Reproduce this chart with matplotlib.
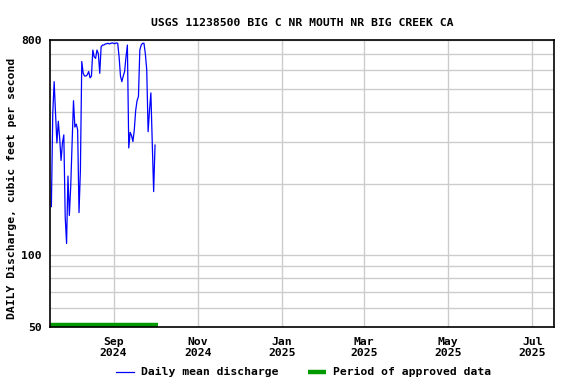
import matplotlib
matplotlib.use("Agg")
import matplotlib.pyplot as plt
import numpy as np
import pandas as pd

title = "USGS 11238500 BIG C NR MOUTH NR BIG CREEK CA"
ylabel = "DAILY Discharge, cubic feet per second"

start_date = "2024-07-18"
discharge = [160, 394, 535, 394, 296, 365, 310, 250, 296, 320,
             145, 112, 215, 147, 195, 296, 445, 345, 355, 336,
             151, 228, 650, 580, 565, 565, 572, 590, 555, 565,
             726, 680, 670, 726, 700, 580, 750, 762, 762, 770,
             772, 775, 770, 775, 778, 775, 772, 778, 775,
             680, 565, 535, 565, 590, 680, 762, 282, 328, 318,
             300, 336, 405, 445, 463, 726, 762, 775, 775, 700,
             600, 330, 405, 480, 296, 185, 290]
dates = pd.date_range(start_date, periods=len(discharge), freq="D")

approved_start = "2024-07-17"
approved_end = "2024-10-03"

xlim = ("2024-07-17", "2025-07-17")
tick_dates = ["2024-09-01", "2024-11-01", "2025-01-01", "2025-03-01", "2025-05-01", "2025-07-01"]
tick_labels = ["Sep\n2024", "Nov\n2024", "Jan\n2025", "Mar\n2025", "May\n2025", "Jul\n2025"]
y_major = [50, 100, 800]
y_minor = [60, 70, 80, 90, 200, 300, 400, 500, 600, 700]

plt.rcParams['font.family'] = ['DejaVu Sans Mono']
plt.rcParams['font.weight'] = 'bold'
fs = 8.2

fig = plt.figure(figsize=(5.76, 3.84), dpi=100)
ax = fig.add_axes([0.0868, 0.1484, 0.8757, 0.7474])

ax.set_yscale('log')
ax.set_ylim(50, 800)
ax.set_xlim(pd.Timestamp(xlim[0]), pd.Timestamp(xlim[1]))

ax.set_yticks(y_major)
ax.set_yticklabels([str(v) for v in y_major], fontsize=fs, fontweight='bold')
ax.set_yticks(y_minor, minor=True)
ax.yaxis.set_minor_formatter(matplotlib.ticker.NullFormatter())
ax.set_xticks([pd.Timestamp(d) for d in tick_dates])
ax.set_xticklabels(tick_labels, fontsize=fs, fontweight='bold')
ax.tick_params(which='both', length=0, pad=6)
ax.tick_params(axis='x', pad=7)

ax.grid(True, which='both', color='#cccccc', linewidth=1)
ax.set_axisbelow(True)
for s in ax.spines.values():
    s.set_linewidth(1.2)
    s.set_color('black')

ax.plot(dates, discharge, color='#0000ff', linewidth=0.9,
        label='Daily mean discharge')
ax.plot([pd.Timestamp(approved_start), pd.Timestamp(approved_end)], [50.8, 50.8],
        color='#009900', linewidth=3.2, solid_capstyle='butt', clip_on=False,
        label='Period of approved data')

ax.set_title(title, fontsize=fs, fontweight='bold', pad=10)
fig.text(0.021, 0.51, ylabel, rotation=90, fontsize=fs, fontweight='bold',
         ha='center', va='center')

leg = fig.legend(loc='center', bbox_to_anchor=(0.527, 0.03), ncol=2, frameon=False,
                 fontsize=fs, handlelength=1.6, columnspacing=2.6, handletextpad=0.6)
for t in leg.get_texts():
    t.set_fontweight('bold')

fig.savefig("out.png", dpi=100)
